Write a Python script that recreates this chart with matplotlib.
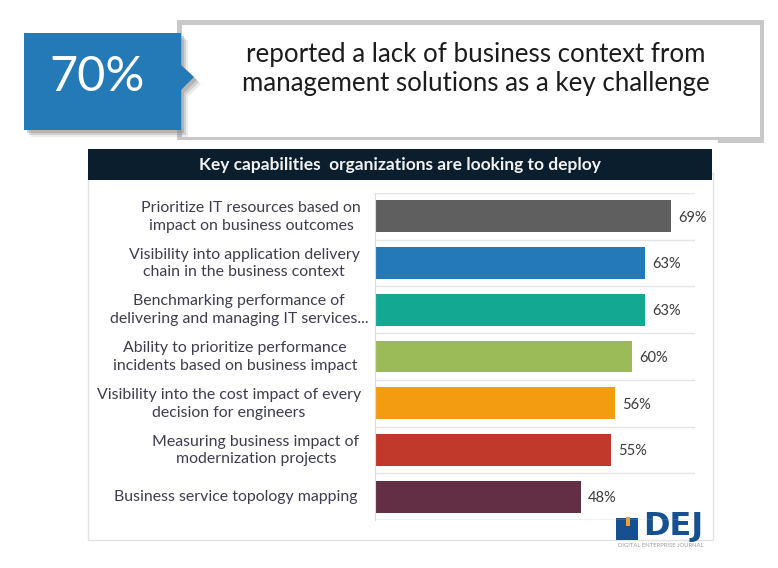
import matplotlib
matplotlib.use("Agg")
import matplotlib.pyplot as plt
from matplotlib.patches import Polygon, Rectangle

plt.rcParams['font.family'] = ['Lato', 'DejaVu Sans']

categories = [
    "Prioritize IT resources based on\nimpact on business outcomes",
    "Visibility into application delivery\nchain in the business context",
    "Benchmarking performance of\ndelivering and managing IT services...",
    "Ability to prioritize performance\nincidents based on business impact",
    "Visibility into the cost impact of every\ndecision for engineers",
    "Measuring business impact of\nmodernization projects",
    "Business service topology mapping",
]
values = [69, 63, 63, 60, 56, 55, 48]
bar_colors = ["#5f5f5f", "#2479b7", "#13a892", "#9bbb59", "#f39c12", "#c0392b", "#622f45"]

HEADLINE_VALUE = "70%"
HEADLINE_TEXT = "reported a lack of business context from\nmanagement solutions as a key challenge"
CHART_TITLE = "Key capabilities  organizations are looking to deploy"

W, H = 778, 568
fig = plt.figure(figsize=(W / 100, H / 100), dpi=100, facecolor="white")

# page layer in pixel coordinates
bg = fig.add_axes([0, 0, 1, 1])
bg.set_xlim(0, W)
bg.set_ylim(H, 0)
bg.axis("off")

# callout box, grey frame is thicker at the lower right corner
bg.add_patch(Rectangle((177, 20), 587, 120, fc="#c8c8c8", ec="none"))
bg.add_patch(Rectangle((718, 138), 46, 5, fc="#c8c8c8", ec="none"))
bg.add_patch(Rectangle((182, 25), 578, 112, fc="white", ec="none"))
bg.text(476, 69, HEADLINE_TEXT, ha="center", va="center", fontsize=18.6,
        color="#1c1c1c", linespacing=1.17)

# blue badge, soft shadow first
badge = [(24, 33), (181, 33), (181, 65), (194, 77), (181, 90), (181, 130), (24, 130)]
for offset, alpha in [(7, 0.15), (5, 0.25), (3, 0.35)]:
    bg.add_patch(Polygon([(x + offset, y + offset) for x, y in badge], fc="#808080", ec="none", alpha=alpha))
bg.add_patch(Polygon(badge, fc="#2479b7", ec="none"))
bg.text(97, 77, HEADLINE_VALUE, ha="center", va="center", fontsize=35, color="white")

# chart panel
bg.add_patch(Rectangle((88.5, 173), 625, 367, fc="white", ec="#e2e2e2", lw=1))
bg.add_patch(Rectangle((88, 149), 624, 31, fc="#0b1e2d", ec="none"))
bg.text(400, 165, CHART_TITLE, ha="center", va="center", fontsize=12.5,
        fontweight="bold", color="#f2f2f2")

# bars
left, right, top, bottom = 375, 695, 193, 520
ax = fig.add_axes([left / W, 1 - bottom / H, (right - left) / W, (bottom - top) / H])
ax.patch.set_alpha(0)
px_per_pct = 4.29
ax.set_xlim(0, (right - left) / px_per_pct)
ax.set_ylim(len(values) - 0.5, -0.5)

for b in [i + 0.5 for i in range(-1, len(values))]:
    ax.axhline(b, color="#b4b4b4" if b == len(values) - 0.5 else "#e4e4e4", lw=1, zorder=0)

ax.barh(range(len(values)), values, height=0.68, color=bar_colors, zorder=2)
for i, v in enumerate(values):
    ax.text(v + 1.7, i + 0.03, f"{v}%", va="center", ha="left", fontsize=10.5, color="#3a3a3a")

# category labels, each centred in its own block left of the axis
label_centers = [251, 244, 239, 235, 229, 256, 236]
for i, (name, center) in enumerate(zip(categories, label_centers)):
    ax.text((center - left) / px_per_pct, i + 0.01, name, ha="center", va="center",
            fontsize=11.4, color="#3d3d4d", linespacing=1.34, clip_on=False)

ax.set_xticks([])
ax.set_yticks([])
for name in ["top", "right", "bottom"]:
    ax.spines[name].set_visible(False)
ax.spines["left"].set_color("#dcdcdc")

# DEJ logo, rough icon block plus lettering
bg.add_patch(Rectangle((616, 518), 22, 22, fc="#16508f", ec="none", zorder=5))
bg.add_patch(Rectangle((626, 517), 4, 9, fc="#f0a030", ec="none", zorder=6))
bg.text(673, 527, "DEJ", ha="center", va="center", fontsize=23, fontweight="black",
        family="DejaVu Sans", color="#16508f", zorder=5)
bg.text(661, 545.5, "DIGITAL ENTERPRISE JOURNAL", ha="center", va="center", fontsize=4.2,
        color="#9a9a9a", zorder=5)

fig.savefig("out.png", dpi=100)
